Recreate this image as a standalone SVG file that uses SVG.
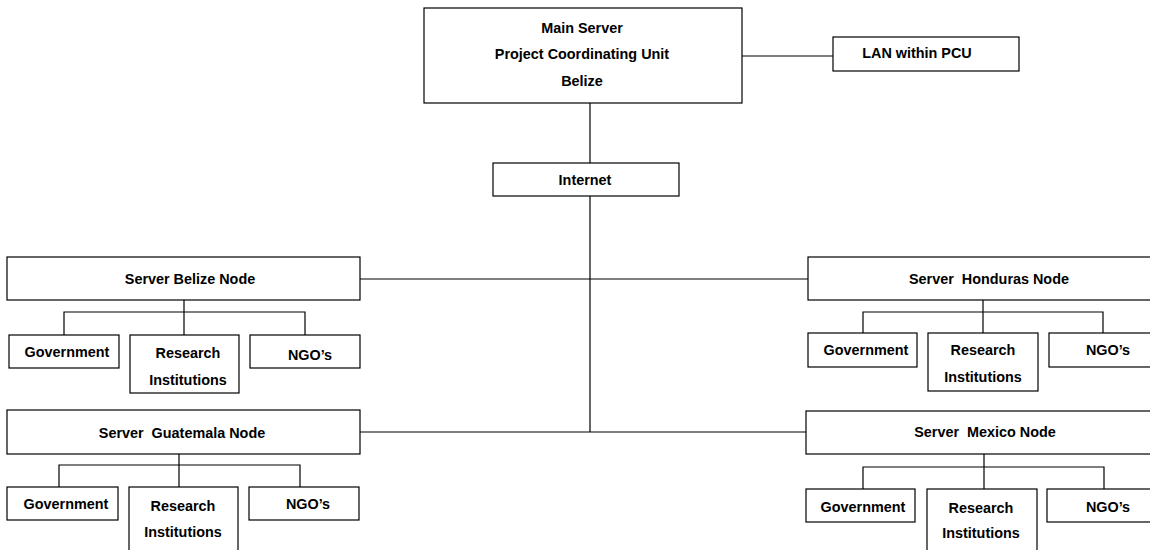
<svg xmlns="http://www.w3.org/2000/svg" width="1150" height="550" viewBox="0 0 1150 550">
<style>
.b{fill:#fff;stroke:#000;stroke-width:1.2}
.c{fill:none;stroke:#000;stroke-width:1.2}
text{font-family:"Liberation Sans",Arial,sans-serif;font-weight:bold;font-size:14.4px;fill:#000;text-anchor:middle;white-space:pre}
</style>
<rect width="1150" height="550" fill="#fff"/>
<g id="connectors">
<line class="c" x1="590" y1="103" x2="590" y2="163"/>
<line class="c" x1="590" y1="196" x2="590" y2="432"/>
<line class="c" x1="742" y1="56" x2="833" y2="56"/>
<line class="c" x1="360" y1="279" x2="808" y2="279"/>
<line class="c" x1="360" y1="432" x2="806" y2="432"/>
<path class="c" d="M184,300V312M64,335V312H305V335M184,312V335"/>
<path class="c" d="M983,300V312M863,333V312H1103V333M983,312V333"/>
<path class="c" d="M179,454V465M59,487V465H300V487M179,465V487"/>
<path class="c" d="M984,454V467M863,489V467H1104V489M984,467V489"/>
</g>
<g id="main-server">
<rect class="b" x="424" y="8" width="318" height="95"/>
<text x="582" y="33">Main Server</text>
<text x="582" y="59">Project Coordinating Unit</text>
<text x="582" y="86">Belize</text>
</g>
<g id="lan"><rect class="b" x="833" y="37" width="186" height="34"/><text x="917" y="58">LAN within PCU</text></g>
<g id="internet"><rect class="b" x="493" y="163" width="186" height="33"/><text x="585" y="185">Internet</text></g>
<g id="server-belize"><rect class="b" x="7" y="257" width="353" height="43"/><text x="190" y="284">Server Belize Node</text></g>
<g id="belize-government"><rect class="b" x="9" y="335" width="110" height="33"/><text x="67" y="357">Government</text></g>
<g id="belize-research"><rect class="b" x="130" y="335" width="109" height="58"/><text x="188" y="358">Research</text><text x="188" y="385">Institutions</text></g>
<g id="belize-ngo"><rect class="b" x="250" y="335" width="110" height="33"/><text x="310" y="360">NGO’s</text></g>
<g id="server-honduras"><rect class="b" x="808" y="257" width="362" height="43"/><text x="989" y="284" xml:space="preserve">Server  Honduras Node</text></g>
<g id="honduras-government"><rect class="b" x="808" y="333" width="109" height="34"/><text x="866" y="355">Government</text></g>
<g id="honduras-research"><rect class="b" x="928" y="333" width="110" height="58"/><text x="983" y="355">Research</text><text x="983" y="382">Institutions</text></g>
<g id="honduras-ngo"><rect class="b" x="1049" y="333" width="110" height="34"/><text x="1108" y="355">NGO’s</text></g>
<g id="server-guatemala"><rect class="b" x="7" y="410" width="353" height="44"/><text x="182" y="438" xml:space="preserve">Server  Guatemala Node</text></g>
<g id="guatemala-government"><rect class="b" x="7" y="487" width="111" height="33"/><text x="66" y="509">Government</text></g>
<g id="guatemala-research"><rect class="b" x="129" y="487" width="109" height="70"/><text x="183" y="511">Research</text><text x="183" y="537">Institutions</text></g>
<g id="guatemala-ngo"><rect class="b" x="249" y="487" width="110" height="33"/><text x="308" y="509">NGO’s</text></g>
<g id="server-mexico"><rect class="b" x="806" y="411" width="362" height="43"/><text x="985" y="437" xml:space="preserve">Server  Mexico Node</text></g>
<g id="mexico-government"><rect class="b" x="806" y="489" width="109" height="33"/><text x="863" y="512">Government</text></g>
<g id="mexico-research"><rect class="b" x="927" y="489" width="110" height="70"/><text x="981" y="513">Research</text><text x="981" y="538">Institutions</text></g>
<g id="mexico-ngo"><rect class="b" x="1047" y="489" width="110" height="33"/><text x="1108" y="512">NGO’s</text></g>
</svg>
